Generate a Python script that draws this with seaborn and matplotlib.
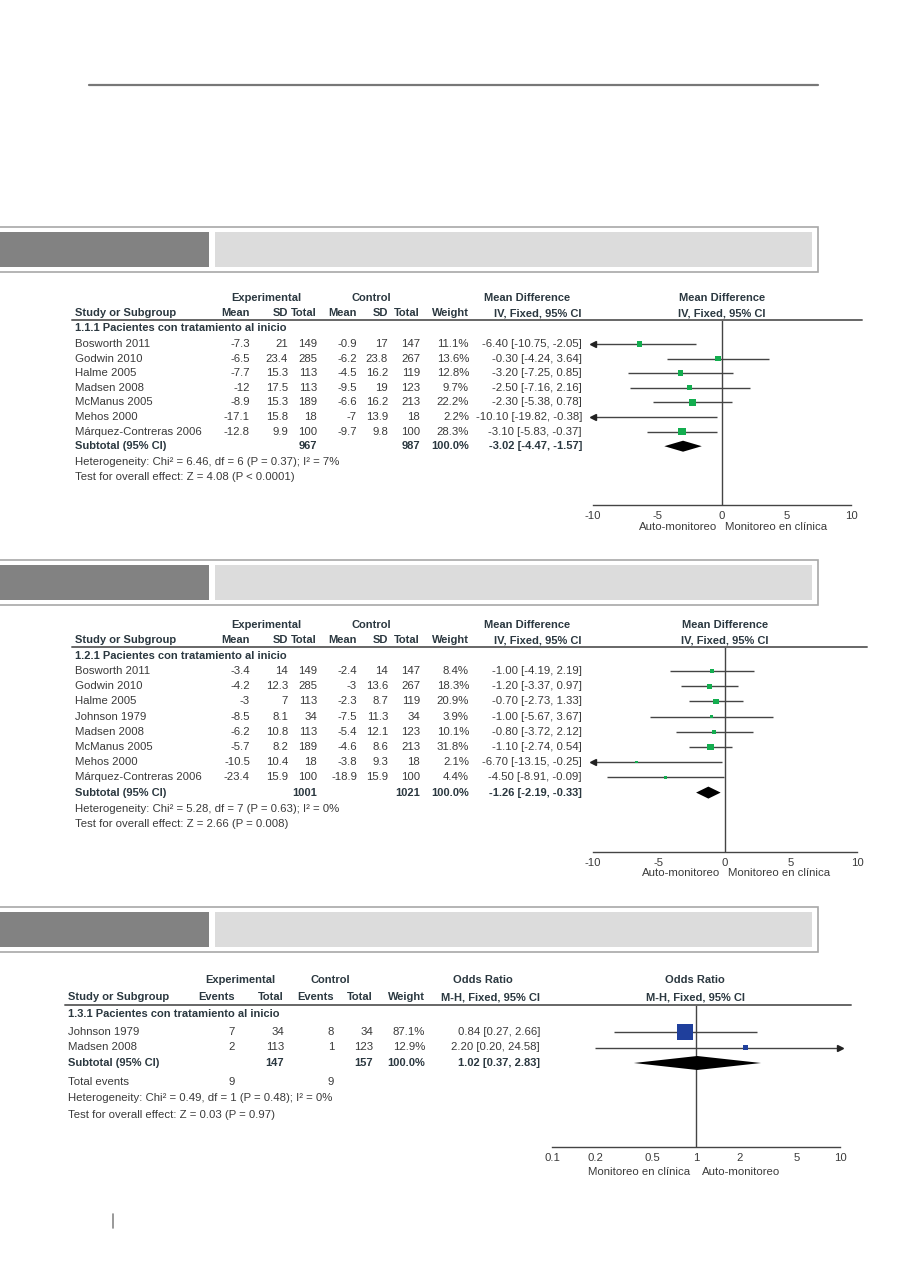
import numpy as np
import matplotlib
matplotlib.use("Agg")
import matplotlib.pyplot as plt
from matplotlib.lines import Line2D
from matplotlib.patches import Rectangle
import seaborn as sns

# ---------------- data ----------------
# Panel 1.1
studies1 = ["Bosworth 2011", "Godwin 2010", "Halme 2005", "Madsen 2008",
            "McManus 2005", "Mehos 2000", "Márquez-Contreras 2006"]
e_mean1 = [-7.3, -6.5, -7.7, -12, -8.9, -17.1, -12.8]
e_sd1 = [21, 23.4, 15.3, 17.5, 15.3, 15.8, 9.9]
e_n1 = [149, 285, 113, 113, 189, 18, 100]
c_mean1 = [-0.9, -6.2, -4.5, -9.5, -6.6, -7, -9.7]
c_sd1 = [17, 23.8, 16.2, 19, 16.2, 13.9, 9.8]
c_n1 = [147, 267, 119, 123, 213, 18, 100]
w1 = [11.1, 13.6, 12.8, 9.7, 22.2, 2.2, 28.3]
md1 = [-6.40, -0.30, -3.20, -2.50, -2.30, -10.10, -3.10]
lo1 = [-10.75, -4.24, -7.25, -7.16, -5.38, -19.82, -5.83]
hi1 = [-2.05, 3.64, 0.85, 2.16, 0.78, -0.38, -0.37]
sub1 = [-3.02, -4.47, -1.57]
tot1 = [967, 987]
group1 = "1.1.1 Pacientes con tratamiento al inicio"
het1 = "Heterogeneity: Chi² = 6.46, df = 6 (P = 0.37); I² = 7%"
test1 = "Test for overall effect: Z = 4.08 (P < 0.0001)"

# Panel 1.2
studies2 = ["Bosworth 2011", "Godwin 2010", "Halme 2005", "Johnson 1979",
            "Madsen 2008", "McManus 2005", "Mehos 2000", "Márquez-Contreras 2006"]
e_mean2 = [-3.4, -4.2, -3, -8.5, -6.2, -5.7, -10.5, -23.4]
e_sd2 = [14, 12.3, 7, 8.1, 10.8, 8.2, 10.4, 15.9]
e_n2 = [149, 285, 113, 34, 113, 189, 18, 100]
c_mean2 = [-2.4, -3, -2.3, -7.5, -5.4, -4.6, -3.8, -18.9]
c_sd2 = [14, 13.6, 8.7, 11.3, 12.1, 8.6, 9.3, 15.9]
c_n2 = [147, 267, 119, 34, 123, 213, 18, 100]
w2 = [8.4, 18.3, 20.9, 3.9, 10.1, 31.8, 2.1, 4.4]
md2 = [-1.00, -1.20, -0.70, -1.00, -0.80, -1.10, -6.70, -4.50]
lo2 = [-4.19, -3.37, -2.73, -5.67, -3.72, -2.74, -13.15, -8.91]
hi2 = [2.19, 0.97, 1.33, 3.67, 2.12, 0.54, -0.25, -0.09]
sub2 = [-1.26, -2.19, -0.33]
tot2 = [1001, 1021]
group2 = "1.2.1 Pacientes con tratamiento al inicio"
het2 = "Heterogeneity: Chi² = 5.28, df = 7 (P = 0.63); I² = 0%"
test2 = "Test for overall effect: Z = 2.66 (P = 0.008)"

# Panel 1.3
studies3 = ["Johnson 1979", "Madsen 2008"]
e_ev3 = [7, 2]
e_n3 = [34, 113]
c_ev3 = [8, 1]
c_n3 = [34, 123]
w3 = [87.1, 12.9]
or3 = [0.84, 2.20]
lo3 = [0.27, 0.20]
hi3 = [2.66, 24.58]
sub3 = [1.02, 0.37, 2.83]
tot3 = [147, 157]
events3 = [9, 9]
group3 = "1.3.1 Pacientes con tratamiento al inicio"
het3 = "Heterogeneity: Chi² = 0.49, df = 1 (P = 0.48); I² = 0%"
test3 = "Test for overall effect: Z = 0.03 (P = 0.97)"

md_ticks = [-10, -5, 0, 5, 10]
or_ticks = [0.1, 0.2, 0.5, 1, 2, 5, 10]
or_ticklabels = ["0.1", "0.2", "0.5", "1", "2", "5", "10"]
left_lab_md, right_lab_md = "Auto-monitoreo", "Monitoreo en clínica"
left_lab_or, right_lab_or = "Monitoreo en clínica", "Auto-monitoreo"

# ---------------- style ----------------
sns.set_theme(style="white")
plt.rcParams["font.family"] = ["Liberation Sans", "DejaVu Sans"]

W, H = 917, 1288
fig = plt.figure(figsize=(W / 100, H / 100), dpi=100)
fig.patch.set_facecolor("white")

TXT = "#3a3a3a"
BTXT = "#2b3840"
LINE = "#444444"
GREEN = "#13ad4f"
BLUE = "#1f3f9c"
FS = 8.2
BFS = 8.0


def fx(x):
    return x / W


def fy(y):
    return 1 - y / H


def T(x, y, s, ha="left", bold=False, size=None, color=None):
    fig.text(fx(x), fy(y), s, ha=ha, va="center",
             fontsize=size if size else (BFS if bold else FS),
             fontweight="bold" if bold else "normal",
             color=color if color else (BTXT if bold else TXT))


def hline_fig(x0, x1, y, color, lw):
    fig.add_artist(Line2D([fx(x0), fx(x1)], [fy(y), fy(y)], color=color,
                          lw=lw, transform=fig.transFigure))


def fmt(v):
    return "{:g}".format(v)


def ci(v, l, h):
    return "{:.2f} [{:.2f}, {:.2f}]".format(v, l, h)


def section_box(ytop, ybot):
    fig.add_artist(Rectangle((fx(-2), fy(ybot)), fx(820), (ybot - ytop) / H,
                             transform=fig.transFigure, fill=False,
                             edgecolor="#a8a8a8", lw=1.2))
    fig.add_artist(Rectangle((fx(0), fy(ybot - 5)), fx(209), (ybot - ytop - 10) / H,
                             transform=fig.transFigure, facecolor="#828282",
                             edgecolor="none"))
    fig.add_artist(Rectangle((fx(215), fy(ybot - 5)), fx(812 - 215), (ybot - ytop - 10) / H,
                             transform=fig.transFigure, facecolor="#dcdcdc",
                             edgecolor="none"))


# page decorations
hline_fig(89, 818, 85, "#777777", 1.6)
fig.add_artist(Line2D([fx(113), fx(113)], [fy(1214), fy(1228)], color="#888888",
                      lw=1.2, transform=fig.transFigure))
section_box(227, 272)
section_box(560, 605)
section_box(907, 952)


def forest_axes(x0, x1, ytop, ybot, xlim, log=False):
    ax = fig.add_axes([fx(x0), fy(ybot), (x1 - x0) / W, (ybot - ytop) / H])
    ax.set_facecolor("none")
    if log:
        ax.set_xscale("log")
    ax.set_xlim(*xlim)
    ax.set_ylim(ybot, ytop)
    for s in ["top", "right", "left"]:
        ax.spines[s].set_visible(False)
    ax.spines["bottom"].set_color(LINE)
    ax.spines["bottom"].set_linewidth(1.0)
    ax.set_yticks([])
    ax.tick_params(axis="x", direction="inout", length=7, width=1.0,
                   colors=LINE, labelsize=8.2, pad=0.5, labelcolor=TXT)
    ax.minorticks_off()
    ax.grid(False)
    return ax


def draw_forest(ax, est, lo, hi, yrows, weights, color, sizes, xmin, xmax,
                sub, ysub, dh, null):
    ax.axvline(null, color=LINE, lw=1.0, zorder=1)
    lo_c = np.clip(lo, xmin, xmax)
    hi_c = np.clip(hi, xmin, xmax)
    ax.hlines(yrows, lo_c, hi_c, color=LINE, lw=1.0, zorder=2)
    for l, h, y in zip(lo, hi, yrows):
        if l < xmin:
            ax.plot([xmin], [y], marker="<", ms=4, color="#222222",
                    clip_on=False, zorder=3)
        if h > xmax:
            ax.plot([xmax], [y], marker=">", ms=4, color="#222222",
                    clip_on=False, zorder=3)
    sns.scatterplot(x=est, y=yrows, size=weights, sizes=sizes, marker="s",
                    color=color, linewidth=0, legend=False, ax=ax, zorder=4)
    e, l, h = sub
    ax.fill([l, e, h, e], [ysub, ysub - dh, ysub, ysub + dh], color="black",
            zorder=5, lw=0)
    ax.set_xlabel("")
    ax.set_ylabel("")


def md_panel(studies, em, es, en, cm, cs, cn, w, md, lo, hi, sub, tot, group,
             het, test, L):
    T(266, L["y_exp"], "Experimental", ha="center", bold=True)
    T(371, L["y_exp"], "Control", ha="center", bold=True)
    T(527, L["y_exp"], "Mean Difference", ha="center", bold=True)
    T(L["xpl0"] + (L["xpl1"] - L["xpl0"]) / 2, L["y_exp"], "Mean Difference",
      ha="center", bold=True)
    yh = L["y_exp"] + 15
    T(75, yh, "Study or Subgroup", bold=True)
    cols = [250, 288, 317, 357, 388, 420, 469, 582]
    heads = ["Mean", "SD", "Total", "Mean", "SD", "Total", "Weight",
             "IV, Fixed, 95% CI"]
    for cx, hd in zip(cols, heads):
        T(cx, yh, hd, ha="right", bold=True)
    T(L["xpl0"] + (L["xpl1"] - L["xpl0"]) / 2, yh, "IV, Fixed, 95% CI",
      ha="center", bold=True)
    hline_fig(72, L["xline1"], L["y_line"], "#666666", 1.4)
    T(75, L["y_group"], group, bold=True)
    yrows = L["row0"] + L["dy"] * np.arange(len(studies))
    for i, y in enumerate(yrows):
        T(75, y, studies[i])
        vals = [fmt(em[i]), fmt(es[i]), str(en[i]), fmt(cm[i]), fmt(cs[i]),
                str(cn[i]), "{:.1f}%".format(w[i]), ci(md[i], lo[i], hi[i])]
        for cx, v in zip(cols, vals):
            T(cx, y, v, ha="right")
    ys = yrows[-1] + L["dy"]
    T(75, ys, "Subtotal (95% CI)", bold=True)
    T(cols[2], ys, str(tot[0]), ha="right", bold=True)
    T(cols[5], ys, str(tot[1]), ha="right", bold=True)
    T(cols[6], ys, "100.0%", ha="right", bold=True)
    T(cols[7], ys, ci(*sub), ha="right", bold=True)
    T(75, L["y_het"], het)
    T(75, L["y_test"], test)

    ax = forest_axes(L["xpl0"], L["xpl1"], L["y_line"], L["y_axis"], (-10, 10))
    draw_forest(ax, md, lo, hi, yrows, w, GREEN, L["sizes"], -10, 10, sub, ys,
                L["dh"], 0)
    ax.set_xticks(md_ticks)
    ax.set_xticklabels([str(t) for t in md_ticks])
    zx = L["xpl0"] + (L["xpl1"] - L["xpl0"]) / 2
    T(zx - 5, L["y_lab"], left_lab_md, ha="right")
    T(zx + 3, L["y_lab"], right_lab_md, ha="left")


L1 = dict(y_exp=298, y_line=320, y_group=328, row0=344, dy=14.6, y_het=462,
          y_test=477, y_axis=505, y_lab=527, xpl0=593, xpl1=851, xline1=862,
          sizes=(6, 30), dh=5.5)
md_panel(studies1, e_mean1, e_sd1, e_n1, c_mean1, c_sd1, c_n1, w1, md1, lo1,
         hi1, sub1, tot1, group1, het1, test1, L1)

L2 = dict(y_exp=625, y_line=647, y_group=656, row0=671, dy=15.2, y_het=809,
          y_test=824, y_axis=852, y_lab=873, xpl0=593, xpl1=857, xline1=867,
          sizes=(3, 24), dh=6)
md_panel(studies2, e_mean2, e_sd2, e_n2, c_mean2, c_sd2, c_n2, w2, md2, lo2,
         hi2, sub2, tot2, group2, het2, test2, L2)

# ---------------- panel 3 (odds ratio) ----------------
cols3 = [235, 284, 334, 373, 425, 540]
T(240, 980, "Experimental", ha="center", bold=True)
T(330, 980, "Control", ha="center", bold=True)
T(483, 980, "Odds Ratio", ha="center", bold=True)
T(695, 980, "Odds Ratio", ha="center", bold=True)
T(68, 997, "Study or Subgroup", bold=True)
for cx, hd in zip(cols3, ["Events", "Total", "Events", "Total", "Weight",
                          "M-H, Fixed, 95% CI"]):
    T(cx, 997, hd, ha="right", bold=True)
T(695, 997, "M-H, Fixed, 95% CI", ha="center", bold=True)
hline_fig(65, 851, 1005, "#666666", 1.4)
T(68, 1014, group3, bold=True)
yrows3 = 1032 + 15.5 * np.arange(len(studies3))
for i, y in enumerate(yrows3):
    T(68, y, studies3[i])
    vals = [str(e_ev3[i]), str(e_n3[i]), str(c_ev3[i]), str(c_n3[i]),
            "{:.1f}%".format(w3[i]), ci(or3[i], lo3[i], hi3[i])]
    for cx, v in zip(cols3, vals):
        T(cx, y, v, ha="right")
ys3 = yrows3[-1] + 15.5
T(68, ys3, "Subtotal (95% CI)", bold=True)
T(cols3[1], ys3, str(tot3[0]), ha="right", bold=True)
T(cols3[3], ys3, str(tot3[1]), ha="right", bold=True)
T(cols3[4], ys3, "100.0%", ha="right", bold=True)
T(cols3[5], ys3, ci(*sub3), ha="right", bold=True)
T(68, 1082, "Total events")
T(cols3[0], 1082, str(events3[0]), ha="right")
T(cols3[2], 1082, str(events3[1]), ha="right")
T(68, 1098, het3)
T(68, 1115, test3)

ax3 = forest_axes(552, 840, 1005, 1147, (0.1, 10), log=True)
draw_forest(ax3, or3, lo3, hi3, yrows3, w3, BLUE, (12, 135), 0.1, 10, sub3,
            ys3, 7, 1)
ax3.set_xticks(or_ticks)
ax3.set_xticklabels(or_ticklabels)
ax3.minorticks_off()
T(690, 1172, left_lab_or, ha="right")
T(702, 1172, right_lab_or, ha="left")

fig.savefig("out.png", dpi=100, facecolor="white")
